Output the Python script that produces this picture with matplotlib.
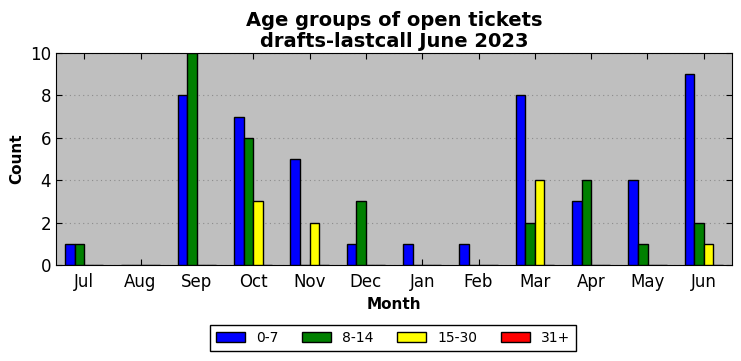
import numpy as np
import matplotlib.pyplot as plt

# Data
months = ['Jul', 'Aug', 'Sep', 'Oct', 'Nov', 'Dec', 'Jan', 'Feb', 'Mar', 'Apr', 'May', 'Jun']
age_0_7 = [1, 0, 8, 7, 5, 1, 1, 1, 8, 3, 4, 9]
age_8_14 = [1, 0, 10, 6, 0, 3, 0, 0, 2, 4, 1, 2]
age_15_30 = [0, 0, 0, 3, 2, 0, 0, 0, 4, 0, 0, 1]
age_31_plus = [0, 0, 0, 0, 0, 0, 0, 0, 0, 0, 0, 0]

series = [('0-7', age_0_7, 'blue'),
          ('8-14', age_8_14, 'green'),
          ('15-30', age_15_30, 'yellow'),
          ('31+', age_31_plus, 'red')]

fig = plt.figure(figsize=(7.41, 3.61), dpi=100)
ax = fig.add_axes([56 / 741, 1 - 265 / 361, 676 / 741, 212 / 361])
ax.set_facecolor('#bfbfbf')

x = np.arange(len(months))
w = 0.17
for i, (label, vals, color) in enumerate(series):
    ax.bar(x + (i - 2) * w, vals, w, align='edge', color=color,
           edgecolor='black', linewidth=1, label=label, zorder=3)

ax.set_xlim(-0.5, len(months) - 0.5)
ax.set_ylim(0, 10)
ax.set_xticks(x)
ax.set_xticklabels(months)
ax.set_yticks(range(0, 11, 2))
ax.tick_params(direction='in', top=True, right=True, labelsize=12, length=4)
ax.tick_params(axis='x', pad=6)
ax.grid(axis='y', linestyle=(0, (1, 3)), color='#8c8c8c', linewidth=0.8, zorder=0)
ax.set_axisbelow(True)

ax.set_xlabel('Month', fontsize=11, fontweight='bold')
ax.set_ylabel('Count', fontsize=11, fontweight='bold')
ax.set_title('Age groups of open tickets\ndrafts-lastcall June 2023',
             fontsize=14, fontweight='bold', linespacing=1.15, pad=4)

leg = ax.legend(loc='center', bbox_to_anchor=(393 / 741, 1 - 338 / 361),
                bbox_transform=fig.transFigure, ncol=4, fontsize=10,
                fancybox=False, edgecolor='black', framealpha=1,
                handlelength=2.1, columnspacing=1.7)
leg.get_frame().set_linewidth(1)

plt.savefig('out.png', dpi=100)
plt.close()
